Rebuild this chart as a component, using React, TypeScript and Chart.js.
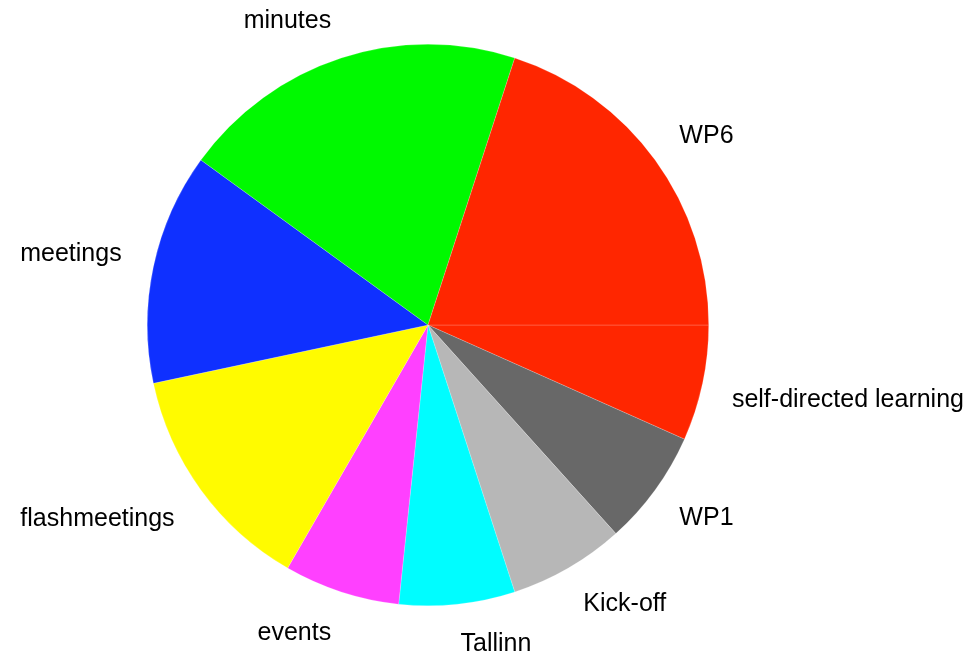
import React, { useEffect, useRef } from "react";
import { Chart, registerables } from "chart.js";

Chart.register(...registerables);

// Categories listed clockwise starting at the 3 o'clock position
const categories = [
  "self-directed learning",
  "WP1",
  "Kick-off",
  "Tallinn",
  "events",
  "flashmeetings",
  "meetings",
  "minutes",
  "WP6",
];
const counts = [1, 1, 1, 1, 1, 2, 2, 3, 3];
const sliceColors = [
  "#FF2600",
  "#686868",
  "#B7B7B7",
  "#00FDFF",
  "#FF40FF",
  "#FFFB00",
  "#0F30FF",
  "#00F900",
  "#FF2600",
];

const outsideLabels = {
  id: "outsideLabels",
  afterDraw(chart: any) {
    const ctx = chart.ctx;
    const meta = chart.getDatasetMeta(0);
    const labels = chart.data.labels as string[];
    ctx.save();
    ctx.font = '25px "Liberation Sans", Arial, Helvetica, sans-serif';
    ctx.fillStyle = "#000000";
    ctx.textBaseline = "alphabetic";
    meta.data.forEach((arc: any, i: number) => {
      const p = arc.getProps(["x", "y", "startAngle", "endAngle", "outerRadius"], true);
      const mid = (p.startAngle + p.endAngle) / 2;
      const c = Math.cos(mid);
      const s = Math.sin(mid);
      const r = p.outerRadius + (c >= 0 ? 30 : 32.5);
      const x = p.x + r * c;
      const y = p.y + r * s + 8 * Math.sign(s) + 9;
      ctx.textAlign = c >= 0 ? "left" : "right";
      ctx.fillText(labels[i], x, y);
    });
    ctx.restore();
  },
};

export default function App() {
  const ref = useRef<HTMLCanvasElement | null>(null);
  useEffect(() => {
    if (!ref.current) return;
    const chart = new Chart(ref.current, {
      type: "pie",
      data: {
        labels: categories,
        datasets: [
          {
            data: counts,
            backgroundColor: sliceColors,
            borderWidth: 0.6,
            borderColor: "rgba(255,255,255,0.3)",
            hoverOffset: 0,
          },
        ],
      },
      options: {
        responsive: false,
        animation: false,
        rotation: 90,
        layout: { padding: { left: 147, right: 263, top: 44, bottom: 53 } },
        plugins: {
          legend: { display: false },
          tooltip: { enabled: false },
        },
        events: [],
      },
      plugins: [outsideLabels],
    });
    return () => chart.destroy();
  }, []);
  return (
    <div style={{ position: "fixed", left: 0, top: 0, width: 972, height: 659, background: "#ffffff" }}>
      <canvas ref={ref} width={972} height={659} style={{ width: 972, height: 659 }} />
    </div>
  );
}
